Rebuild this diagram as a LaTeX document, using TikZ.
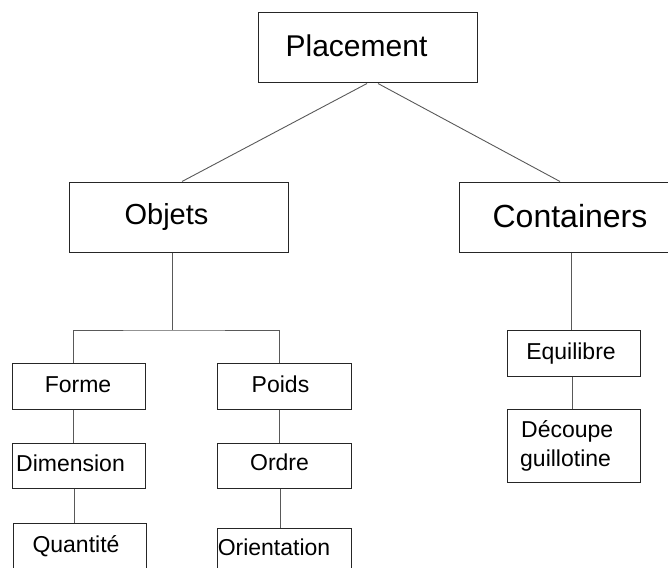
\documentclass[tikz,border=0pt]{standalone}
\usepackage{fontspec}
\setmainfont{Liberation Sans}
\begin{document}
\begin{tikzpicture}[x=1pt,y=-1pt,
  box/.style={draw=black!85, line width=1pt, inner sep=0pt, rectangle},
  conn/.style={draw=black!65, line width=0.9pt},
  big/.style={font=\fontsize{30}{36}\selectfont, anchor=base, inner sep=0pt},
  small/.style={font=\fontsize{23}{28}\selectfont, anchor=base, inner sep=0pt}]
\useasboundingbox (0,0) rectangle (668,567);
% boxes
\node[box, minimum width=219pt, minimum height=70pt] (placement) at (367.5,48) {};
\node[box, minimum width=219pt, minimum height=70pt] (objets) at (178.5,217) {};
\node[box, minimum width=213pt, minimum height=70pt] (containers) at (565.5,217) {};
\node[box, minimum width=133pt, minimum height=46pt] (forme) at (78.5,386) {};
\node[box, minimum width=133pt, minimum height=45pt] (dimension) at (78.5,465.5) {};
\node[box, minimum width=133pt, minimum height=77pt] (quantite) at (79.5,561.5) {};
\node[box, minimum width=134pt, minimum height=46pt] (poids) at (284,386) {};
\node[box, minimum width=134pt, minimum height=45pt] (ordre) at (284,465.5) {};
\node[box, minimum width=134pt, minimum height=72pt] (orientation) at (284,564) {};
\node[box, minimum width=133pt, minimum height=46pt] (equilibre) at (573.5,353) {};
\node[box, minimum width=133pt, minimum height=73pt] (decoupe) at (573.5,445.5) {};
% labels
\node[big] (tplacement) at (356.5,57) {Placement};
\node[big, font=\fontsize{29}{35}\selectfont] (tobjets) at (166.5,224) {Objets};
\node[big, font=\fontsize{32}{38}\selectfont] (tcontainers) at (570,227) {Containers};
\node[small] (tforme) at (78,392) {Forme};
\node[small] (tdimension) at (70.5,471) {Dimension};
\node[small] (tquantite) at (76,552) {Quantité};
\node[small] (tpoids) at (280.5,392) {Poids};
\node[small] (tordre) at (279.5,470) {Ordre};
\node[small] (torientation) at (274,555) {Orientation};
\node[small] (tequilibre) at (571,359) {Equilibre};
\node[small, anchor=base west] (tdecoupe) at (521,437) {Découpe};
\node[small, anchor=base west] (tguillotine) at (520,466) {guillotine};
% connectors
\draw[conn] ([xshift=-0.5pt]placement.south) -- ([xshift=3.5pt]objets.north);
\draw[conn] ([xshift=10.5pt]placement.south) -- ([xshift=-5.5pt]containers.north);
\coordinate (j) at (172,330);
\draw[conn] ([xshift=-6.5pt]objets.south) -- (j);
\draw[conn] ([xshift=-5.5pt]forme.north) |- (j) -| ([xshift=-5pt]poids.north);
\draw[conn] ([xshift=-5.5pt]forme.south) -- ([xshift=-5.5pt]dimension.north);
\draw[conn] ([xshift=-4.5pt]dimension.south) -- ([xshift=-5.5pt]quantite.north);
\draw[conn] ([xshift=-5pt]poids.south) -- ([xshift=-5pt]ordre.north);
\draw[conn] ([xshift=-4pt]ordre.south) -- ([xshift=-4pt]orientation.north);
\draw[conn] ([xshift=5.5pt]containers.south) -- ([xshift=-2.5pt]equilibre.north);
\draw[conn] ([xshift=-1.5pt]equilibre.south) -- ([xshift=-1.5pt]decoupe.north);
\end{tikzpicture}
\end{document}
